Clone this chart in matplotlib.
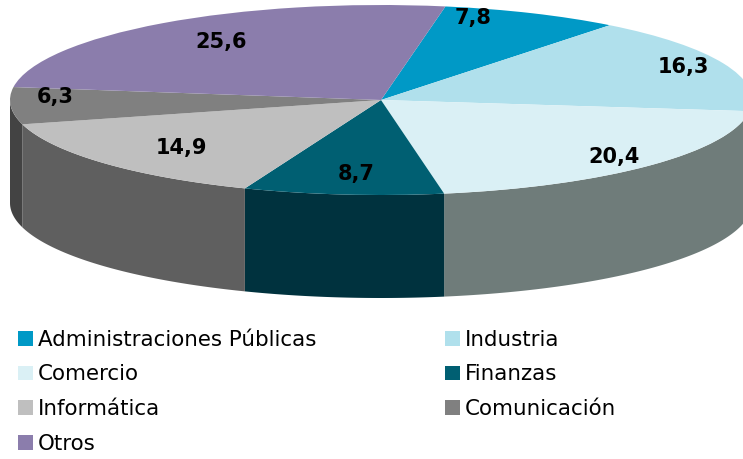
import matplotlib
matplotlib.use('Agg')
import matplotlib.pyplot as plt
import numpy as np

categories = ['Administraciones Públicas', 'Industria', 'Comercio', 'Finanzas',
              'Informática', 'Comunicación', 'Otros']
values = [7.8, 16.3, 20.4, 8.7, 14.9, 6.3, 25.6]
value_labels = ['7,8', '16,3', '20,4', '8,7', '14,9', '6,3', '25,6']
colors = ['#0099c6', '#b0e0ec', '#daf0f5', '#005f72', '#bfbfbf', '#808080', '#8b7dac']
wall_colors = ['#00506a', '#5c7479', '#6f7c7a', '#00323e', '#5f5f5f', '#434343', '#4a4260']

# where the pie sits in the picture, pixels
W, H = 743, 459
cx, cy = 381, 100
rx, ry = 371, 95
depth = 103
start_angle = 80

label_px = [(473, 18), (683, 67), (614, 157), (356, 174), (181, 148), (55, 97), (221, 42)]


def px(x, y):
    return (x - cx) / rx, (cy - y) / ry


fig = plt.figure(figsize=(W / 100, H / 100), dpi=100)
ax = fig.add_axes([0, 0, 1, 1])

wedges, _ = ax.pie(values, startangle=start_angle, counterclock=False, radius=1,
                   colors=colors, wedgeprops={'linewidth': 0, 'zorder': 2})

# side wall, only the front half of the ellipse shows
edges = start_angle - np.cumsum([0] + values) * 3.6
for i in range(len(values)):
    hi = min(edges[i], 0)
    lo = max(edges[i + 1], -180)
    if hi <= lo:
        continue
    t = np.radians(np.linspace(hi, lo, 80))
    x = np.cos(t)
    y = np.sin(t)
    ax.fill(np.r_[x, x[::-1]], np.r_[y, y[::-1] - depth / ry],
            color=wall_colors[i], linewidth=0, zorder=1)

ax.set_aspect('auto')
ax.set_xlim(px(0, 0)[0], px(W, 0)[0])
ax.set_ylim(px(0, H)[1], px(0, 0)[1])
ax.axis('off')

for lab, pos in zip(value_labels, label_px):
    ax.text(*px(*pos), lab, ha='center', va='center', fontsize=15,
            fontweight='bold', color='black', zorder=3)

# legend fills column by column, so this order gives the rows of the reference
order = [0, 2, 4, 6, 1, 3, 5]
ax.legend([wedges[i] for i in order], [categories[i] for i in order], ncol=2,
          loc='lower left', bbox_to_anchor=(18 / W, 1 - 454 / H), frameon=False,
          fontsize=15.4, handlelength=0.7, handleheight=0.7, handletextpad=0.24,
          labelspacing=0.69, columnspacing=6.0, borderpad=0, borderaxespad=0,
          labelcolor='black')

plt.savefig('out.png', dpi=100)
plt.close()
